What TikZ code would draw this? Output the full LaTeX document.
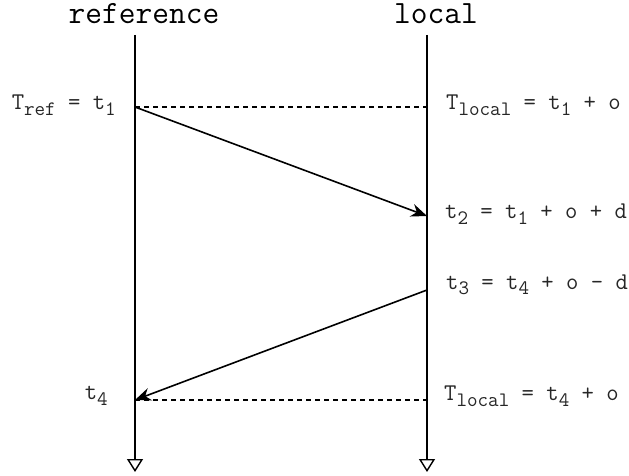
\documentclass[tikz,border=0pt]{standalone}
\usepackage{fontspec}
\usetikzlibrary{arrows.meta}
\newcommand{\lsub}[1]{\raisebox{-5.5pt}{\fontsize{20.5}{20}\selectfont #1}}

\begin{document}
\begin{tikzpicture}[
  x=1pt, y=-1pt,
  title/.style={font=\ttfamily\fontsize{32.5}{34}\selectfont, inner sep=0pt},
  lbl/.style={font=\ttfamily\fontsize{24}{26}\selectfont, text=black!85, inner sep=0pt},
  lifeline/.style={-{Triangle[open, length=13pt, width=16pt, line width=1.4pt]}, line width=1.6pt},
  msg/.style={-{Stealth[length=16pt, width=13pt]}, line width=1.6pt},
  sync/.style={dash pattern=on 5pt off 4pt, line width=1.4pt}
]
\useasboundingbox (0,0) rectangle (629,476);

\node[title] (reftitle) at (144,14) {reference};
\node[title] (loctitle) at (436,14) {local};

\coordinate (refTop) at (135,35);
\coordinate (refBot) at (135,472);
\coordinate (locTop) at (427,35);
\coordinate (locBot) at (427,472);

\coordinate (t1) at (135,107);
\coordinate (t1loc) at (427,107);
\coordinate (t2) at (427,216);
\coordinate (t3) at (427,290);
\coordinate (t4) at (135,400);
\coordinate (t4loc) at (427,400);

\draw[lifeline] (refTop) -- (refBot);
\draw[lifeline] (locTop) -- (locBot);

\draw[sync] (t1) -- (t1loc);
\draw[sync] (t4) -- (t4loc);
\draw[msg] (t1) -- (t2);
\draw[msg] (t3) -- (t4);

\node[lbl, anchor=east] (treflbl) at (116,105) {T\lsub{ref} = t\lsub{1}};
\node[lbl, anchor=west] (tloc1lbl) at (446,105) {T\lsub{local} = t\lsub{1} + o};
\node[lbl, anchor=west] (t2lbl) at (445,214) {t\lsub{2} = t\lsub{1} + o + d};
\node[lbl, anchor=west] (t3lbl) at (446,285) {t\lsub{3} = t\lsub{4} + o - d};
\node[lbl, anchor=east] (t4lbl) at (108,396) {t\lsub{4}};
\node[lbl, anchor=west] (tloc4lbl) at (444,396) {T\lsub{local} = t\lsub{4} + o};
\end{tikzpicture}
\end{document}
